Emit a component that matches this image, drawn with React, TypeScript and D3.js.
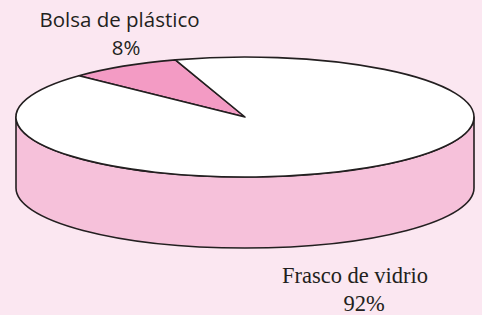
import React from "react";
import * as d3 from "d3";

const categories = ["Bolsa de plástico", "Frasco de vidrio"];
const values = [8, 92];
const labels = ["8%", "92%"];

const W = 482, H = 315;
const cx = 245, cy = 117, rx = 229, ry = 60, depth = 71;
const topColors = ["#f39bc4", "#ffffff"];
const sideColor = "#f6c1da";
const stroke = "#231f20";

function pt(a: number, dy = 0): [number, number] {
  return [cx + rx * Math.sin(a), cy + dy - ry * Math.cos(a)];
}

export default function App() {
  const pie = d3.pie<number>().sort(null).startAngle((-46.5 * Math.PI) / 180).endAngle((-46.5 * Math.PI) / 180 + 2 * Math.PI);
  const arcs = pie(values);

  const slicePath = (s: number, e: number) => {
    const [x0, y0] = pt(s);
    const [x1, y1] = pt(e);
    const large = e - s > Math.PI ? 1 : 0;
    return `M${cx},${cy}L${x0},${y0}A${rx},${ry} 0 ${large} 1 ${x1},${y1}Z`;
  };

  const side = `M${cx - rx},${cy}L${cx - rx},${cy + depth}A${rx},${ry} 0 0 0 ${cx + rx},${cy + depth}L${cx + rx},${cy}A${rx},${ry} 0 0 1 ${cx - rx},${cy}Z`;

  return (
    <div style={{ position: "absolute", left: 0, top: 0 }}>
      <svg width={W} height={H} style={{ display: "block" }}>
        <rect width={W} height={H} fill="#fbe7f1" />
        <path d={side} fill={sideColor} stroke={stroke} strokeWidth={1.6} strokeLinejoin="round" />
        {arcs.map((a, i) => (
          <path key={i} d={slicePath(a.startAngle, a.endAngle)} fill={topColors[i]} stroke={stroke} strokeWidth={1.6} strokeLinejoin="round" />
        ))}
        <text x={119.5} y={27} textAnchor="middle" fontFamily="'Open Sans', sans-serif" fontSize={20.5} fill="#231f20">{categories[0]}</text>
        <text x={126} y={55} textAnchor="middle" fontFamily="'Open Sans', sans-serif" fontSize={20.5} fill="#231f20">{labels[0]}</text>
        <text x={355} y={283} textAnchor="middle" fontFamily="'Liberation Serif', serif" fontSize={22.5} fill="#231f20">{categories[1]}</text>
        <text x={364} y={311} textAnchor="middle" fontFamily="'Liberation Serif', serif" fontSize={22.5} fill="#231f20">{labels[1]}</text>
      </svg>
    </div>
  );
}
